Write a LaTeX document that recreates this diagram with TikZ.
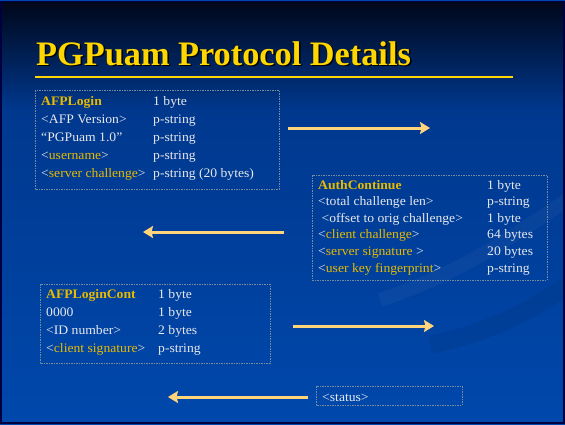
\documentclass[tikz,border=0pt]{standalone}
\usepackage{fontspec}
\setmainfont{Liberation Serif}
\newfontfamily\bodyfont[FakeStretch=1.05]{Liberation Serif}
\usetikzlibrary{arrows.meta}
\definecolor{slideblue}{RGB}{0,72,172}
\definecolor{slidetop}{RGB}{0,6,24}
\definecolor{slidemid}{RGB}{0,56,142}
\definecolor{gold}{RGB}{232,186,0}
\definecolor{titleyel}{RGB}{255,214,0}
\definecolor{txtgrey}{RGB}{232,232,236}
\definecolor{arrowyel}{RGB}{255,212,122}
\definecolor{boxline}{RGB}{120,140,160}
\newcommand{\hi}[1]{\textcolor{gold}{#1}}
\tikzstyle{arrow} = [line width=3pt,-{Stealth[length=10pt,width=12pt,inset=1.5pt]},draw=arrowyel]

\begin{document}
\begin{tikzpicture}
        [
            x=1pt,y=-1pt,
            fld/.style={anchor=base west,inner sep=0pt,text=txtgrey,font=\bodyfont\fontsize{13}{15}\selectfont},
            hdr/.style={fld,text=gold,font=\bodyfont\fontsize{13}{15}\selectfont\bfseries},
            frame/.style={draw=boxline,line width=0.6pt,dash pattern=on 1.5pt off 1pt},
        ]
    \useasboundingbox (0,0) rectangle (565,424);

    % background
    \shade[top color=slidetop,bottom color=slidemid] (0,0) rectangle (565,110);
    \shade[top color=slidemid,bottom color=slideblue] (0,110) rectangle (565,424);
    \draw[white,opacity=0.035,line width=14pt] (380,300) .. controls (470,270) and (520,230) .. (575,195);
    \draw[black,opacity=0.06,line width=18pt] (430,345) .. controls (500,330) and (540,305) .. (575,280);
    \draw[draw=black!75!blue,line width=2pt] (1,1) rectangle (564,423);
    \draw[draw=blue!60!cyan!70!black,line width=1pt] (0,0.5) -- (565,0.5);

    % title
    \node[anchor=base west,inner sep=0pt,text=black,font=\fontsize{34.3}{38}\selectfont\bfseries] (titleshadow) at (37.5,66.5) {PGPuam Protocol Details};
    \node[anchor=base west,inner sep=0pt,text=titleyel,font=\fontsize{34.3}{38}\selectfont\bfseries] (title) at (36,65) {PGPuam Protocol Details};
    \draw[titleyel,line width=2pt] (35,77) -- (513,77);

    % AFPLogin
    \draw[frame] (35,90) rectangle (279,189);
    \node[hdr] (lgnhead) at (41,105) {AFPLogin};
    \node[fld] (lgnsize) at (153,105) {1 byte};
    \foreach \a/\b [count=\i] in {{<AFP Version>}/p-string,{“PGPuam 1.0”}/p-string,{<\hi{username}>}/p-string,{<\hi{server challenge}>}/{p-string (20 bytes)}}{
        \node[fld] (lgn\i a) at (41,{105+18.2*\i}) {\a};
        \node[fld] (lgn\i b) at (153,{105+18.2*\i}) {\b};
    }

    % AuthContinue
    \draw[frame] (312,175) rectangle (547,280);
    \node[hdr] (authhead) at (318,189) {AuthContinue};
    \node[fld] (authsize) at (487,189) {1 byte};
    \foreach \a/\b [count=\i] in {{<total challenge len>}/p-string,{\ <offset to orig challenge>}/{1 byte},{<\hi{client challenge}>}/{64 bytes},{<\hi{server signature }>}/{20 bytes},{<\hi{user key fingerprint}>}/p-string}{
        \node[fld] (auth\i a) at (318,{189+16.6*\i}) {\a};
        \node[fld] (auth\i b) at (487,{189+16.6*\i}) {\b};
    }

    % AFPLoginCont
    \draw[frame] (40,284) rectangle (270,363);
    \node[hdr] (conthead) at (46,298) {AFPLoginCont};
    \node[fld] (contsize) at (158,298) {1 byte};
    \foreach \a/\b [count=\i] in {0000/{1 byte},{<ID number>}/{2 bytes},{<\hi{client signature}>}/p-string}{
        \node[fld] (cont\i a) at (46,{298+18.1*\i}) {\a};
        \node[fld] (cont\i b) at (158,{298+18.1*\i}) {\b};
    }

    % status
    \draw[frame] (316,386) rectangle (462,405);
    \node[fld] (status) at (322,401) {<status>};

    % arrows
    \coordinate (go1) at (288,128);  \coordinate (to1) at (430,128);
    \coordinate (go2) at (284,232);  \coordinate (to2) at (143,232);
    \coordinate (go3) at (293,326);  \coordinate (to3) at (434,326);
    \coordinate (go4) at (308,397);  \coordinate (to4) at (168,397);
    \foreach \n in {1,...,4}
        \draw[arrow] (go\n) -- (to\n);
\end{tikzpicture}
\end{document}
